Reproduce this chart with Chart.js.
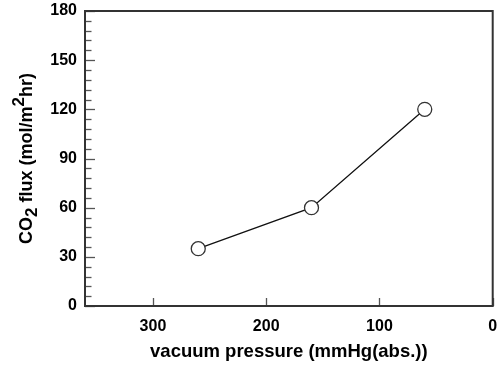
<!DOCTYPE html>
<html>
<head>
<meta charset="utf-8">
<script src="https://cdn.jsdelivr.net/npm/chart.js@4"></script>
<style>
  html, body { margin: 0; padding: 0; background: #ffffff; }
  #wrap { width: 501px; height: 370px; position: relative; }
</style>
</head>
<body>
<div id="wrap"><canvas id="c" width="501" height="370"></canvas></div>
<script>
// ---- data ----
const vacuumPressure = [260, 160, 60];     // mmHg(abs.)
const co2Flux = [35, 60, 120];             // mol/m2hr
const xTickValues = [300, 200, 100, 0];
const yTickValues = [0, 30, 60, 90, 120, 150, 180];
const yMinorStep = 6;
const xRange = [0, 360];
const yRange = [0, 180];
const xTitle = 'vacuum pressure (mmHg(abs.))';
const yTitleParts = [
  { t: 'CO', k: 'n' }, { t: '2', k: 'sub' }, { t: ' flux (mol/m', k: 'n' },
  { t: '2', k: 'sup' }, { t: 'hr)', k: 'n' }
];

const FONT = '"Liberation Sans", Arial, sans-serif';

const framePlugin = {
  id: 'frame',
  afterDraw(chart) {
    const ctx = chart.ctx;
    const a = chart.chartArea;
    const xs = chart.scales.x, ys = chart.scales.y;
    ctx.save();
    // minor y ticks
    ctx.strokeStyle = '#555';
    ctx.lineWidth = 1.3;
    for (let v = yRange[0]; v <= yRange[1] + 1e-9; v += yMinorStep) {
      const y = Math.round(ys.getPixelForValue(v)) + 0.5;
      const major = yTickValues.includes(v);
      ctx.beginPath();
      ctx.moveTo(a.left, y);
      ctx.lineTo(a.left + (major ? 10 : 6.5), y);
      ctx.stroke();
    }
    // x ticks
    xTickValues.forEach(v => {
      const x = Math.round(xs.getPixelForValue(v)) + 0.5;
      ctx.beginPath();
      ctx.moveTo(x, a.bottom);
      ctx.lineTo(x, a.bottom - 8);
      ctx.stroke();
    });
    // frame
    ctx.strokeStyle = '#333';
    ctx.lineWidth = 2;
    ctx.strokeRect(a.left, a.top, a.right - a.left, a.bottom - a.top);

    // x title
    ctx.fillStyle = '#000';
    ctx.font = 'bold 18.5px ' + FONT;
    ctx.textAlign = 'center';
    ctx.textBaseline = 'alphabetic';
    ctx.fillText(xTitle, (a.left + a.right) / 2, 357);

    // y title with sub/superscripts
    const mainF = 'bold 18px ' + FONT;
    const smallF = 'bold 17px ' + FONT;
    let total = 0;
    yTitleParts.forEach(p => {
      ctx.font = p.k === 'n' ? mainF : smallF;
      p.w = ctx.measureText(p.t).width;
      total += p.w;
    });
    ctx.translate(32, (a.top + a.bottom) / 2);
    ctx.rotate(-Math.PI / 2);
    ctx.textAlign = 'left';
    let cx = -total / 2;
    yTitleParts.forEach(p => {
      ctx.font = p.k === 'n' ? mainF : smallF;
      const dy = p.k === 'sub' ? 5 : (p.k === 'sup' ? -8 : 0);
      ctx.fillText(p.t, cx, dy);
      cx += p.w;
    });
    ctx.restore();
  }
};

new Chart(document.getElementById('c'), {
  type: 'scatter',
  data: {
    datasets: [{
      data: vacuumPressure.map((x, i) => ({ x: x, y: co2Flux[i] })),
      showLine: true,
      borderColor: '#111',
      borderWidth: 1.3,
      pointRadius: 7,
      pointHoverRadius: 7,
      pointBackgroundColor: '#fff',
      pointBorderColor: '#333',
      pointBorderWidth: 1.3,
      tension: 0
    }]
  },
  options: {
    responsive: false,
    animation: false,
    events: [],
    layout: { padding: { left: 0, top: 11, right: 5, bottom: 0 } },
    plugins: { legend: { display: false }, tooltip: { enabled: false } },
    scales: {
      x: {
        type: 'linear',
        reverse: true,
        min: xRange[0], max: xRange[1],
        grid: { display: false },
        border: { display: false },
        afterBuildTicks: s => { s.ticks = xTickValues.map(v => ({ value: v })); },
        afterFit: s => { s.height = 64; s.paddingLeft = 0; s.paddingRight = 0; },
        ticks: { color: '#000', padding: 3, maxRotation: 0, autoSkip: false,
                 font: { family: FONT, size: 16, weight: 'bold' } }
      },
      y: {
        type: 'linear',
        min: yRange[0], max: yRange[1],
        grid: { display: false },
        border: { display: false },
        afterBuildTicks: s => { s.ticks = yTickValues.map(v => ({ value: v })); },
        afterFit: s => { s.width = 85; s.paddingTop = 0; s.paddingBottom = 0; },
        ticks: { color: '#000', padding: 0, autoSkip: false,
                 font: { family: FONT, size: 16, weight: 'bold' } }
      }
    }
  },
  plugins: [framePlugin]
});
</script>
</body>
</html>
